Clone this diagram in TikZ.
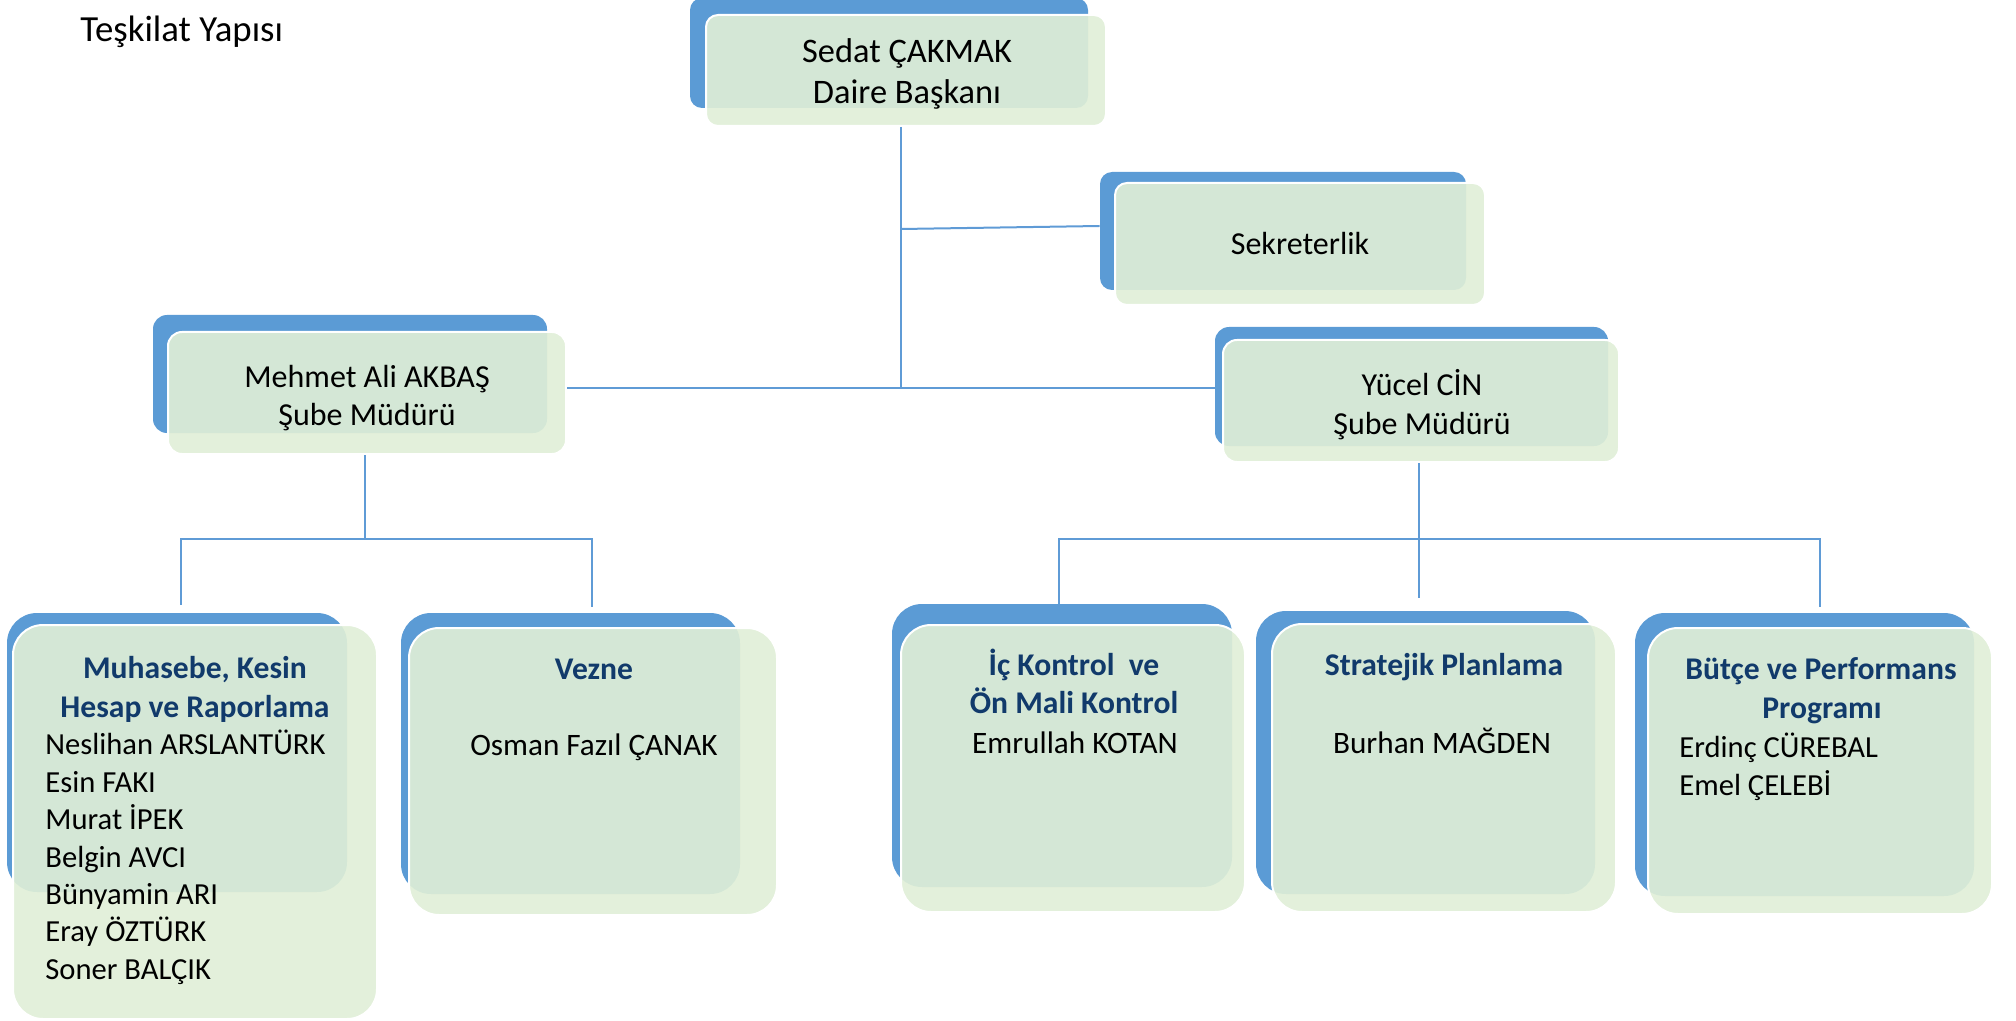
\documentclass[tikz,border=0pt]{standalone}
\usepackage{fontspec}
\setmainfont{Carlito}
\usetikzlibrary{fit,calc}
\definecolor{bblue}{HTML}{5B9BD5}
\definecolor{ggreen}{HTML}{E0EFD7}
\definecolor{navy}{HTML}{113A6B}
\definecolor{lineblue}{HTML}{5F9BD6}
\tikzset{
  bluebox/.style={fill=bblue, draw=none, inner sep=0pt},
  greenbox/.style={fill=ggreen, fill opacity=0.91, draw=white, line width=1pt, inner sep=0pt},
  conn/.style={draw=lineblue, line width=1pt},
  txt/.style={inner sep=0pt, anchor=base, text=black},
  big/.style={txt, font=\fontsize{17.2pt}{20pt}\selectfont},
  mid/.style={txt, font=\fontsize{16pt}{19pt}\selectfont},
  hb/.style={txt, text=navy, font=\fontsize{15.8pt}{19pt}\selectfont\bfseries},
  nm/.style={txt, font=\fontsize{15.6pt}{18pt}\selectfont},
  nml/.style={txt, anchor=base west, font=\fontsize{15.3pt}{18pt}\selectfont},
}
\newcommand\orgbox[6]{%
  \node[bluebox, rounded corners=#6, fit={#2 #3}] (#1b) {};
  \node[greenbox, rounded corners=#6, fit={#4 #5}] (#1) {};
}
\begin{document}
\begin{tikzpicture}[x=0.5pt, y=-0.5pt]
\useasboundingbox (0,0) rectangle (2016,1021);

% title
\node[txt, anchor=base west, font=\fontsize{18.4pt}{22pt}\selectfont] (title) at (80,42) {Teşkilat Yapısı};

% boxes
\orgbox{sedat}{(690,-2)}{(1088,108)}{(706,15)}{(1106,126)}{6pt}
\orgbox{sek}{(1100,172)}{(1466,290)}{(1115,183)}{(1485,305)}{6pt}
\orgbox{mehmet}{(153,315)}{(547,433)}{(168,332)}{(566,454)}{7pt}
\orgbox{yucel}{(1215,327)}{(1608,446)}{(1223,340)}{(1619,462)}{7pt}
\orgbox{muh}{(7,613)}{(347,892)}{(13,625)}{(377,1019)}{15pt}
\orgbox{vezne}{(401,613)}{(740,894)}{(409,628)}{(777,915)}{15pt}
\orgbox{ic}{(892,604)}{(1232,887)}{(901,625)}{(1245,912)}{15pt}
\orgbox{str}{(1256,611)}{(1595,894)}{(1272,624)}{(1616,912)}{15pt}
\orgbox{butce}{(1635,613)}{(1974,896)}{(1648,628)}{(1992,914)}{15pt}

% connectors
\coordinate (j0) at (901,229);
\coordinate (j1) at (901,388);
\draw[conn] (sedat.south -| j1) -- (j1);
\draw[conn] (j0) -- ([yshift=2.5pt]sekb.west);
\draw[conn] (mehmet.east |- j1) -- (yucelb.west |- j1);

\coordinate (j2) at (365,539);
\coordinate (e1) at (181,605);
\coordinate (e2) at (592,607);
\draw[conn] (mehmet.south -| j2) -- (j2);
\draw[conn] (j2) -| (e1);
\draw[conn] (j2) -| (e2);

\coordinate (j3) at (1419,539);
\coordinate (e3) at (1059,604);
\coordinate (e4) at (1419,598);
\coordinate (e5) at (1820,607);
\draw[conn] (yucel.south -| j3) -- (e4);
\draw[conn] (j3) -| (e3);
\draw[conn] (j3) -| (e5);

% texts
\node[big] (sedat-t1) at (907,63) {Sedat ÇAKMAK};
\node[big] (sedat-t2) at (907,104) {Daire Başkanı};
\node[mid] (sek-t) at (1300,255) {Sekreterlik};
\node[mid] (mehmet-t1) at (367,387) {Mehmet Ali AKBAŞ};
\node[mid] (mehmet-t2) at (367,425) {Şube Müdürü};
\node[mid] (yucel-t1) at (1422,395) {Yücel CİN};
\node[mid] (yucel-t2) at (1422,434) {Şube Müdürü};

\node[hb] (muh-h1) at (195,678) {Muhasebe, Kesin};
\node[hb] (muh-h2) at (195,717) {Hesap ve Raporlama};
\node[nml] (muh-n1) at (45,754) {Neslihan ARSLANTÜRK};
\node[nml] (muh-n2) at (45,792) {Esin FAKI};
\node[nml] (muh-n3) at (45,829) {Murat İPEK};
\node[nml] (muh-n4) at (45,867) {Belgin AVCI};
\node[nml] (muh-n5) at (45,904) {Bünyamin ARI};
\node[nml] (muh-n6) at (45,941) {Eray ÖZTÜRK};
\node[nml] (muh-n7) at (45,979) {Soner BALÇIK};

\node[hb] (vezne-h) at (594,679) {Vezne};
\node[nm] (vezne-n) at (594,755) {Osman Fazıl ÇANAK};

\node[hb] (ic-h1) at (1074,675) {İç Kontrol\ \ ve};
\node[hb] (ic-h2) at (1074,713) {Ön Mali Kontrol};
\node[nm] (ic-n) at (1075,753) {Emrullah KOTAN};

\node[hb] (str-h) at (1444,675) {Stratejik Planlama};
\node[nm] (str-n) at (1442,753) {Burhan MAĞDEN};

\node[hb] (butce-h1) at (1821,679) {Bütçe ve Performans};
\node[hb] (butce-h2) at (1822,718) {Programı};
\node[nml] (butce-n1) at (1679,757) {Erdinç CÜREBAL};
\node[nml] (butce-n2) at (1679,795) {Emel ÇELEBİ};
\end{tikzpicture}
\end{document}
